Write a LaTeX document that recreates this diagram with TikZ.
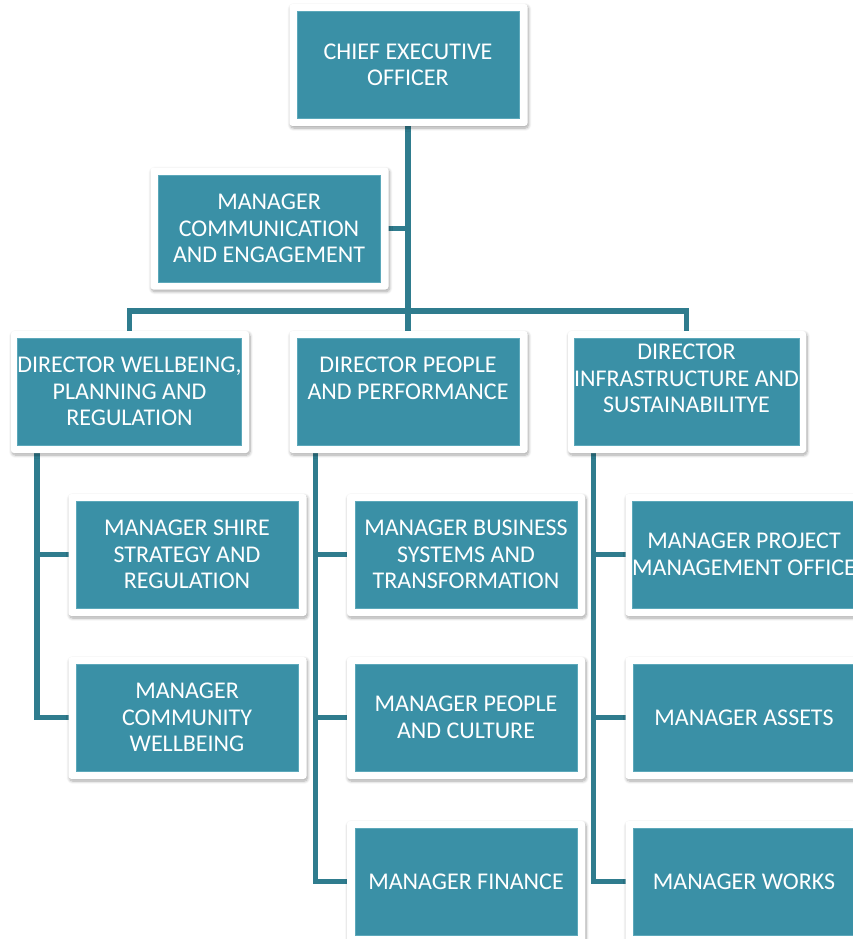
\documentclass[tikz,border=0pt]{standalone}
\usepackage{fontspec}
\setmainfont{Carlito}
\usetikzlibrary{shadows,shadows.blur,backgrounds}
\definecolor{cardfill}{HTML}{3A90A6}
\definecolor{cardedge}{HTML}{5CA8BA}
\definecolor{linkc}{HTML}{2F7C8E}
\newcommand\cardfont{\fontsize{24}{26.5}\selectfont}
\tikzset{
  frame/.style={fill=white, rounded corners=3pt, minimum width=238pt, minimum height=122pt, inner sep=0pt,
    blur shadow={shadow blur steps=8, shadow xshift=1pt, shadow yshift=-2pt, shadow opacity=35, shadow blur radius=3pt}},
  card/.style={fill=cardfill, draw=cardedge, line width=0.8pt, minimum width=222pt, minimum height=107pt,
    inner sep=0pt, text=white, align=center, font=\cardfont},
  link/.style={draw=linkc, line width=5.5pt}
}
\begin{document}
\begin{tikzpicture}[x=1pt,y=-1pt]
\useasboundingbox (0,0) rectangle (853,939);
\clip (0,0) rectangle (853,939);
% frames
\node[frame] (ceoF) at (408.5,65) {};
\node[frame] (commF) at (269.5,228.5) {};
\node[frame] (d1F) at (130,392) {};
\node[frame] (d2F) at (408.5,392) {};
\node[frame] (d3F) at (687,392) {};
\node[frame] (m11F) at (187.5,555) {};
\node[frame] (m12F) at (187.5,718) {};
\node[frame] (m21F) at (466,555) {};
\node[frame] (m22F) at (466,718) {};
\node[frame] (m23F) at (466,882) {};
\node[frame] (m31F) at (744.5,555) {};
\node[frame] (m32F) at (744.5,718) {};
\node[frame] (m33F) at (744.5,882) {};
% cards
\node[card] (ceo) at (408,65) {CHIEF EXECUTIVE\\OFFICER};
\node[card] (comm) at (269,228.5) {MANAGER\\COMMUNICATION\\AND ENGAGEMENT};
\node[card] (d1) at (129.5,391.5) {DIRECTOR WELLBEING,\\PLANNING AND\\REGULATION};
\node[card] (d2) at (408,391.5) {DIRECTOR PEOPLE\\AND PERFORMANCE\\\mbox{}};
\node[card] (d3) at (686.5,391.5) {DIRECTOR\\INFRASTRUCTURE AND\\SUSTAINABILITYE\\\mbox{}};
\node[card] (m11) at (187,554.5) {MANAGER SHIRE\\STRATEGY AND\\REGULATION};
\node[card] (m12) at (187,717.5) {MANAGER\\COMMUNITY\\WELLBEING};
\node[card] (m21) at (466,554.5) {MANAGER BUSINESS\\SYSTEMS AND\\TRANSFORMATION};
\node[card] (m22) at (466,717.5) {MANAGER PEOPLE\\AND CULTURE};
\node[card] (m23) at (466,881.5) {MANAGER FINANCE};
\node[card] (m31) at (744,554.5) {MANAGER PROJECT\\MANAGEMENT OFFICE};
\node[card] (m32) at (744,717.5) {MANAGER ASSETS};
\node[card] (m33) at (744,881.5) {MANAGER WORKS};
\coordinate (bus) at (408,311);
% connectors
\begin{scope}[on background layer]
\draw[link] (ceo.south) -- (d2.north);
\draw[link] (comm.east) -- (comm.east -| ceo.south);
\draw[link] (d1.north) |- (bus) -| (d3.north);
\draw[link] ([xshift=20pt]d1.south west) |- (m11.west);
\draw[link] ([xshift=20pt]d1.south west) |- (m12.west);
\draw[link] ([xshift=19pt]d2.south west) |- (m21.west);
\draw[link] ([xshift=19pt]d2.south west) |- (m22.west);
\draw[link] ([xshift=19pt]d2.south west) |- (m23.west);
\draw[link] ([xshift=20pt]d3.south west) |- (m31.west);
\draw[link] ([xshift=20pt]d3.south west) |- (m32.west);
\draw[link] ([xshift=20pt]d3.south west) |- (m33.west);
\end{scope}
\end{tikzpicture}
\end{document}
